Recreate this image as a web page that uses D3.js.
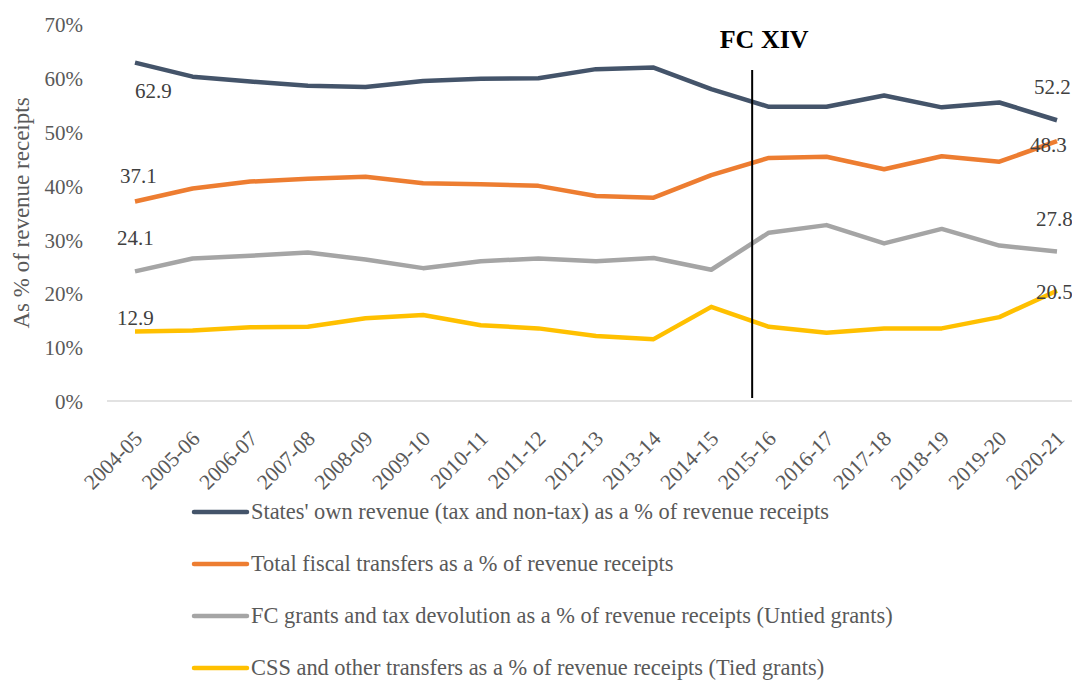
<!DOCTYPE html>
<html><head><meta charset="utf-8">
<script src="https://cdn.jsdelivr.net/npm/d3@7"></script>
<style>
body{margin:0;background:#fff;}
svg{display:block;}
svg text{font-family:"Liberation Serif","Times New Roman",serif !important;}
</style></head>
<body><svg id="chart" width="1072" height="682"></svg>
<script>
const years = ["2004-05","2005-06","2006-07","2007-08","2008-09","2009-10","2010-11","2011-12","2012-13","2013-14","2014-15","2015-16","2016-17","2017-18","2018-19","2019-20","2020-21"];
const ownRevenue   = [62.9,60.3,59.4,58.6,58.4,59.5,59.9,60.0,61.7,62.0,58.0,54.7,54.7,56.8,54.6,55.5,52.2];
const totalTransfers = [37.1,39.5,40.8,41.3,41.7,40.5,40.3,40.0,38.1,37.8,42.0,45.2,45.4,43.1,45.5,44.5,48.3];
const untiedGrants = [24.1,26.5,27.0,27.6,26.3,24.7,26.0,26.5,26.0,26.6,24.4,31.3,32.7,29.3,32.0,28.9,27.8];
const tiedGrants   = [12.9,13.1,13.7,13.8,15.4,16.0,14.1,13.5,12.1,11.5,17.5,13.8,12.7,13.5,13.5,15.6,20.5];
const seriesNames = [
  "States' own revenue (tax and non-tax) as a % of revenue receipts",
  "Total fiscal transfers as a % of revenue receipts",
  "FC grants and tax devolution as a % of revenue receipts (Untied grants)",
  "CSS and other transfers as a % of revenue receipts (Tied grants)"
];
const yTicks = [0,10,20,30,40,50,60,70];
const annotation = "FC XIV";
const yTitle = "As % of revenue receipts";

const colors = ["#44546A","#ED7D31","#A5A5A5","#FFC000"];
const allSeries = [ownRevenue,totalTransfers,untiedGrants,tiedGrants];
// label offsets [first dx,dy, last dx,dy]
const labelOffsets = [[0,35,-23,-26],[-15,-18,-27,11],[-18,-26,-21,-25],[-18,-7,-21,8]];

const svg = d3.select("#chart");
const x = d3.scalePoint().domain(years).range([135,1057]);
const y = d3.scaleLinear().domain([0,70]).range([401,24.5]);
const step = x.step();

// baseline
svg.append("line").attr("x1",107).attr("x2",1072).attr("y1",y(0)).attr("y2",y(0))
  .attr("stroke","#D9D9D9").attr("stroke-width",1.5);

// y axis
const yAxis = d3.axisLeft(y).tickValues(yTicks).tickFormat(d=>d+"%").tickSize(0).tickPadding(0);
const yg = svg.append("g").attr("transform","translate(83,0)").call(yAxis);
yg.select(".domain").remove();
yg.selectAll("text").attr("font-size",21).attr("fill","#595959").attr("dy","0.35em");

// y title
svg.append("text").attr("transform","translate(29,213) rotate(-90)")
  .attr("text-anchor","middle").attr("font-size",23).attr("fill","#595959").text(yTitle);

// x axis
const xAxis = d3.axisBottom(x).tickSize(0).tickPadding(0);
const xg = svg.append("g").attr("transform","translate(0,"+y(0)+")").call(xAxis);
xg.select(".domain").remove();
xg.selectAll("text").attr("font-size",21.5).attr("fill","#595959")
  .attr("text-anchor","end").attr("dy",null).attr("y",0)
  .attr("transform","translate(8,39) rotate(-45)");

// lines
const line = d3.line().x((d,i)=>x(years[i])).y(d=>y(d));
allSeries.forEach((s,k)=>{
  svg.append("path").datum(s).attr("d",line).attr("fill","none")
    .attr("stroke",colors[k]).attr("stroke-width",4.5).attr("stroke-linejoin","round");
});

// vertical annotation line
const vx = x("2014-15") + step*0.71;
svg.append("line").attr("x1",vx).attr("x2",vx).attr("y1",70).attr("y2",y(0)-3)
  .attr("stroke","#000").attr("stroke-width",2);
svg.append("text").attr("x",vx+12).attr("y",48).attr("text-anchor","middle")
  .attr("font-size",26).attr("font-weight","bold").attr("fill","#000").text(annotation);

// data labels
allSeries.forEach((s,k)=>{
  const o = labelOffsets[k];
  const n = s.length-1;
  svg.append("text").attr("x",x(years[0])+o[0]).attr("y",y(s[0])+o[1])
    .attr("font-size",21).attr("fill","#404040").text(s[0].toFixed(1));
  svg.append("text").attr("x",x(years[n])+o[2]).attr("y",y(s[n])+o[3])
    .attr("font-size",21).attr("fill","#404040").text(s[n].toFixed(1));
});

// legend
const lg = svg.append("g");
seriesNames.forEach((name,k)=>{
  const ly = 512 + k*52;
  lg.append("line").attr("x1",194).attr("x2",247).attr("y1",ly).attr("y2",ly)
    .attr("stroke",colors[k]).attr("stroke-width",4.5).attr("stroke-linecap","round");
  lg.append("text").attr("x",251).attr("y",ly).attr("dy","0.33em")
    .attr("font-size",22.4).attr("fill","#595959").text(name);
});
</script></body></html>
